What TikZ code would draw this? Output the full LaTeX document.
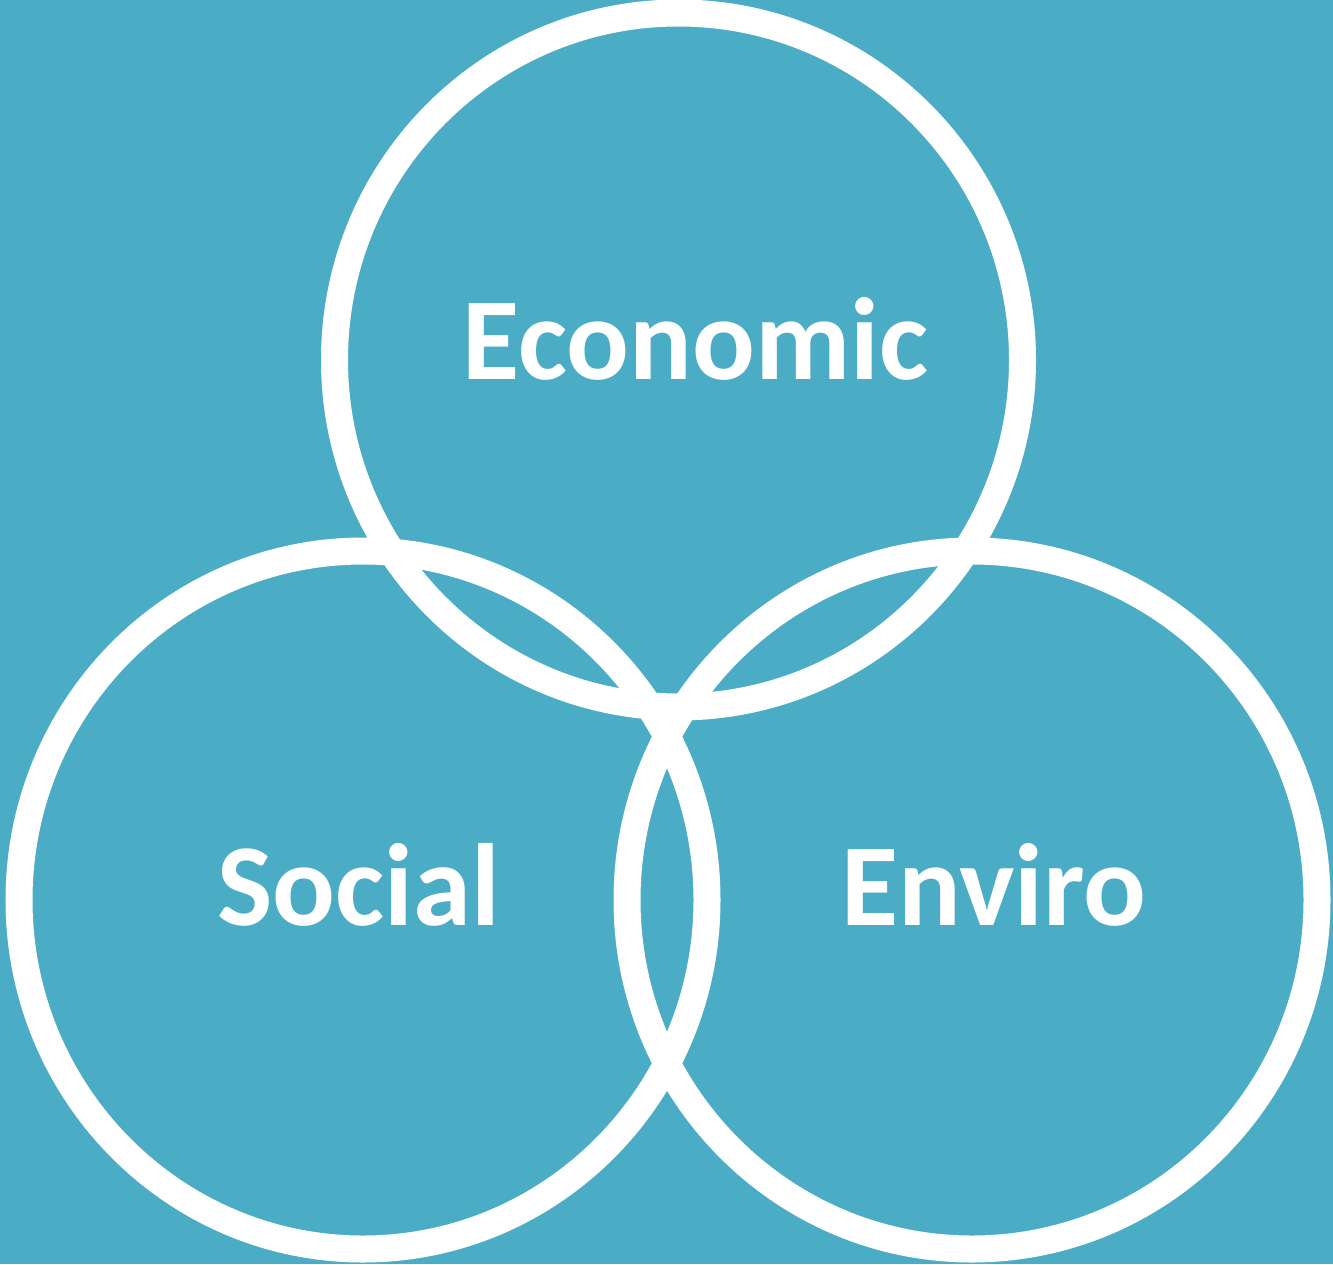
\documentclass[tikz,border=0pt]{standalone}
\usepackage{fontspec}
\setmainfont{Carlito}
\definecolor{bgblue}{HTML}{4BACC6}
\begin{document}
\begin{tikzpicture}[x=1pt,y=-1pt,
  ring/.style={draw=white,line width=27pt},
  lbl/.style={text=white,font=\bfseries\fontsize{117}{122}\selectfont,anchor=base,inner sep=0pt}]
\fill[bgblue] (0,0) rectangle (1333,1264);
\useasboundingbox (0,0) rectangle (1333,1264);
\draw[ring] (678.5,360) ellipse [x radius=344, y radius=347];
\draw[ring] (363,900) ellipse [x radius=344, y radius=349];
\draw[ring] (972,900) ellipse [x radius=345, y radius=349];
\node[lbl] (eco) at (695.5,379) {Economic};
\node[lbl] (soc) at (358.5,925) {Social};
\node[lbl] (env) at (994,925) {Enviro};
\end{tikzpicture}
\end{document}
